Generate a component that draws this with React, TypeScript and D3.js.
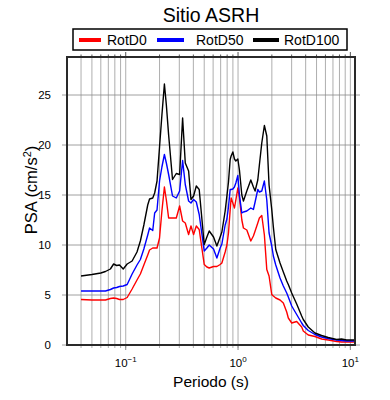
import React, { useEffect, useRef } from 'react';
import * as d3 from 'd3';

const periods = [
  0.040, 0.050, 0.060, 0.066, 0.073, 0.078, 0.083, 0.088, 0.095, 0.103,
  0.114, 0.126, 0.135, 0.145, 0.157, 0.163, 0.174, 0.181, 0.190, 0.200,
  0.210, 0.221, 0.230, 0.241, 0.261, 0.282, 0.302, 0.321, 0.339, 0.363,
  0.381, 0.402, 0.425, 0.451, 0.500, 0.528, 0.554, 0.605, 0.648, 0.693,
  0.718, 0.768, 0.796, 0.822, 0.851, 0.868, 0.899, 0.929, 0.956, 0.996,
  1.029, 1.081, 1.117, 1.197, 1.299, 1.370, 1.419, 1.499, 1.549, 1.627,
  1.716, 1.803, 1.889, 1.996, 2.063, 2.167, 2.365, 2.531, 2.713, 2.803,
  3.005, 3.328, 3.687, 3.809, 4.220, 4.838, 5.549, 6.351, 7.543, 8.352,
  9.252, 10.81,
];

const rotD100 = [
  6.9, 7.05, 7.2, 7.35, 7.6, 8.1, 7.95, 8.0, 7.6, 8.1,
  8.4, 9.3, 10.4, 12.0, 14.0, 14.6, 14.7, 15.2, 16.4, 19.8,
  23.0, 26.1, 24.0, 21.0, 16.55, 17.15, 17.05, 22.7, 18.2, 17.4,
  14.55, 14.9, 15.9, 15.55, 10.05, 10.8, 11.4, 10.8, 9.9, 10.8,
  11.3, 13.4, 14.9, 16.3, 18.55, 18.9, 19.3, 18.6, 18.4, 18.6,
  17.5, 15.0, 14.4, 15.4, 16.5, 15.8, 15.4, 16.5, 18.0, 20.2,
  21.95, 20.9, 16.0, 13.55, 11.8, 9.55, 8.2, 7.3, 6.4, 6.05,
  5.2, 4.1, 2.9, 2.55, 1.8, 1.2, 0.95, 0.75, 0.55, 0.6,
  0.5, 0.5,
];

const rotD50 = [
  5.4, 5.4, 5.4, 5.4, 5.55, 5.7, 5.75, 5.85, 5.9, 6.05,
  7.1, 8.0, 8.55, 9.6, 11.0, 11.7, 11.45, 13.2, 13.5, 16.4,
  17.8, 19.05, 18.2, 17.05, 14.9, 14.7, 15.4, 18.45, 16.05, 14.4,
  14.2, 14.55, 14.3, 13.05, 9.4, 9.7, 10.0, 9.6, 8.7, 9.7,
  10.1, 12.0, 12.6, 13.8, 15.55, 15.55, 15.6, 15.8, 16.2, 16.95,
  15.0, 13.2, 13.3, 13.4, 13.7, 13.55, 14.3, 15.55, 15.3, 15.4,
  16.4, 14.5, 11.2, 9.9, 8.9, 8.0, 6.7, 5.9, 5.2, 4.8,
  3.9, 3.05, 2.2, 1.95, 1.45, 1.05, 0.8, 0.65, 0.5, 0.45,
  0.4, 0.4,
];

const rotD0 = [
  4.55, 4.5, 4.5, 4.5, 4.65, 4.7, 4.65, 4.55, 4.55, 4.75,
  5.6, 6.5, 7.1, 8.0, 9.0, 9.5, 9.7, 9.7, 9.7, 10.7,
  13.4, 15.8, 14.5, 12.7, 12.7, 12.7, 13.9, 12.4, 12.2, 11.05,
  11.9, 11.05, 11.9, 11.55, 8.05, 7.8, 7.7, 7.85, 7.85, 8.05,
  8.2, 9.3, 10.0, 11.2, 13.5, 14.7, 14.2, 13.7, 14.5, 15.7,
  14.7, 12.5, 11.7, 11.5, 10.4, 10.9, 11.4, 12.2, 12.7, 12.95,
  11.0, 7.55, 6.9, 5.05, 4.9, 4.7, 4.5, 4.2, 3.3, 2.7,
  2.2, 2.35, 1.8, 1.4, 1.0, 0.85, 0.6, 0.5, 0.35, 0.3,
  0.3, 0.3,
];

const seriesNames = ['RotD0', 'RotD50', 'RotD100'];
const seriesColors = ['#ff0000', '#0000ff', '#000000'];
const seriesValues = [rotD0, rotD50, rotD100];

const yTicks = [0, 5, 10, 15, 20, 25];
const xMajorTicks = [0.1, 1, 10];
const xExponents = ['\u22121', '0', '1'];
const xDomain = [0.03, 11];
const yDomain = [0, 28.8];

const titleText = 'Sitio ASRH';
const xLabel = 'Periodo (s)';

const FONT = '"Liberation Sans", Arial, Helvetica, sans-serif';

export default function App() {
  const ref = useRef<SVGSVGElement>(null);

  useEffect(() => {
    const svg = d3.select(ref.current);
    svg.selectAll('*').remove();

    const left = 67, right = 355, top = 57, bottom = 345;
    const x = d3.scaleLog().domain(xDomain).range([left, right]);
    const y = d3.scaleLinear().domain(yDomain).range([bottom, top]);

    const gridX: number[] = [];
    for (let e = -2; e <= 1; e++) {
      for (let m = 1; m <= 9; m++) {
        const v = m * Math.pow(10, e);
        if (v > xDomain[0] * 1.0001 && v < xDomain[1] * 0.9999) gridX.push(v);
      }
    }
    const isMajor = (v: number) => xMajorTicks.some((t) => Math.abs(t - v) / t < 1e-6);

    const g = svg.append('g');

    g.selectAll('line.gx')
      .data(gridX)
      .enter()
      .append('line')
      .attr('x1', (d) => x(d))
      .attr('x2', (d) => x(d))
      .attr('y1', top)
      .attr('y2', bottom + 3)
      .attr('stroke', '#999')
      .attr('stroke-width', 0.8);

    g.selectAll('line.gy')
      .data(yTicks)
      .enter()
      .append('line')
      .attr('x1', left - 5)
      .attr('x2', right + 5)
      .attr('y1', (d) => y(d))
      .attr('y2', (d) => y(d))
      .attr('stroke', '#888')
      .attr('stroke-width', 0.8);

    g.selectAll('line.tt')
      .data(gridX)
      .enter()
      .append('line')
      .attr('x1', (d) => x(d))
      .attr('x2', (d) => x(d))
      .attr('y1', top)
      .attr('y2', (d) => top - (isMajor(d) ? 5 : 2.5))
      .attr('stroke', '#555')
      .attr('stroke-width', 1);

    g.selectAll('line.bt')
      .data(xMajorTicks)
      .enter()
      .append('line')
      .attr('x1', (d) => x(d))
      .attr('x2', (d) => x(d))
      .attr('y1', bottom)
      .attr('y2', bottom + 5)
      .attr('stroke', '#888')
      .attr('stroke-width', 1);

    const line = d3
      .line<number>()
      .x((_, i) => x(periods[i]))
      .y((d) => y(d));

    seriesValues.forEach((vals, si) => {
      g.append('path')
        .datum(vals)
        .attr('d', line)
        .attr('fill', 'none')
        .attr('stroke', seriesColors[si])
        .attr('stroke-width', 1.4)
        .attr('stroke-linejoin', 'round');
    });

    g.append('rect')
      .attr('x', left)
      .attr('y', top)
      .attr('width', right - left)
      .attr('height', bottom - top)
      .attr('fill', 'none')
      .attr('stroke', '#2a2a2a')
      .attr('stroke-width', 2);

    g.selectAll('text.yl')
      .data(yTicks)
      .enter()
      .append('text')
      .attr('x', 51)
      .attr('y', (d) => y(d))
      .attr('dy', '0.36em')
      .attr('text-anchor', 'end')
      .attr('font-family', FONT)
      .attr('font-size', 11.5)
      .attr('fill', '#000')
      .text((d) => String(d));

    const xl = g
      .selectAll('text.xl')
      .data(xMajorTicks)
      .enter()
      .append('text')
      .attr('x', (d) => x(d))
      .attr('y', 367)
      .attr('text-anchor', 'middle')
      .attr('font-family', FONT)
      .attr('font-size', 11.5)
      .attr('fill', '#000');
    xl.append('tspan').text('10');
    xl.append('tspan')
      .attr('dy', -5)
      .attr('font-size', 8)
      .text((_, i) => xExponents[i]);

    g.append('text')
      .attr('x', (left + right) / 2)
      .attr('y', 387)
      .attr('text-anchor', 'middle')
      .attr('font-family', FONT)
      .attr('font-size', 15.5)
      .attr('fill', '#000')
      .text(xLabel);

    const yl = g
      .append('text')
      .attr('transform', `translate(36.5, 190) rotate(-90)`)
      .attr('text-anchor', 'middle')
      .attr('font-family', FONT)
      .attr('font-size', 16.5)
      .attr('fill', '#000');
    yl.append('tspan').text('PSA (cm/s');
    yl.append('tspan').attr('dy', -6).attr('font-size', 11).text('2');
    yl.append('tspan').attr('dy', 6).text(')');

    g.append('text')
      .attr('x', (left + right) / 2)
      .attr('y', 21.5)
      .attr('text-anchor', 'middle')
      .attr('font-family', FONT)
      .attr('font-size', 19.5)
      .attr('fill', '#000')
      .text(titleText);

    const lg = g.append('g');
    lg.append('rect')
      .attr('x', 73)
      .attr('y', 29)
      .attr('width', 274)
      .attr('height', 21)
      .attr('fill', '#fff')
      .attr('stroke', '#000')
      .attr('stroke-width', 1.5);
    const lineStarts = [79, 157, 253];
    const lineEnds = [101, 184, 279];
    const textStarts = [107, 196, 284];
    seriesNames.forEach((name, i) => {
      lg.append('line')
        .attr('x1', lineStarts[i])
        .attr('x2', lineEnds[i])
        .attr('y1', 40)
        .attr('y2', 40)
        .attr('stroke', seriesColors[i])
        .attr('stroke-width', 4);
      lg.append('text')
        .attr('x', textStarts[i])
        .attr('y', 44.8)
        .attr('font-family', FONT)
        .attr('font-size', 14)
        .attr('fill', '#000')
        .text(name);
    });
  }, []);

  return (
    <svg
      ref={ref}
      width={390}
      height={400}
      style={{ position: 'absolute', left: 0, top: 0, background: '#fff' }}
    />
  );
}
